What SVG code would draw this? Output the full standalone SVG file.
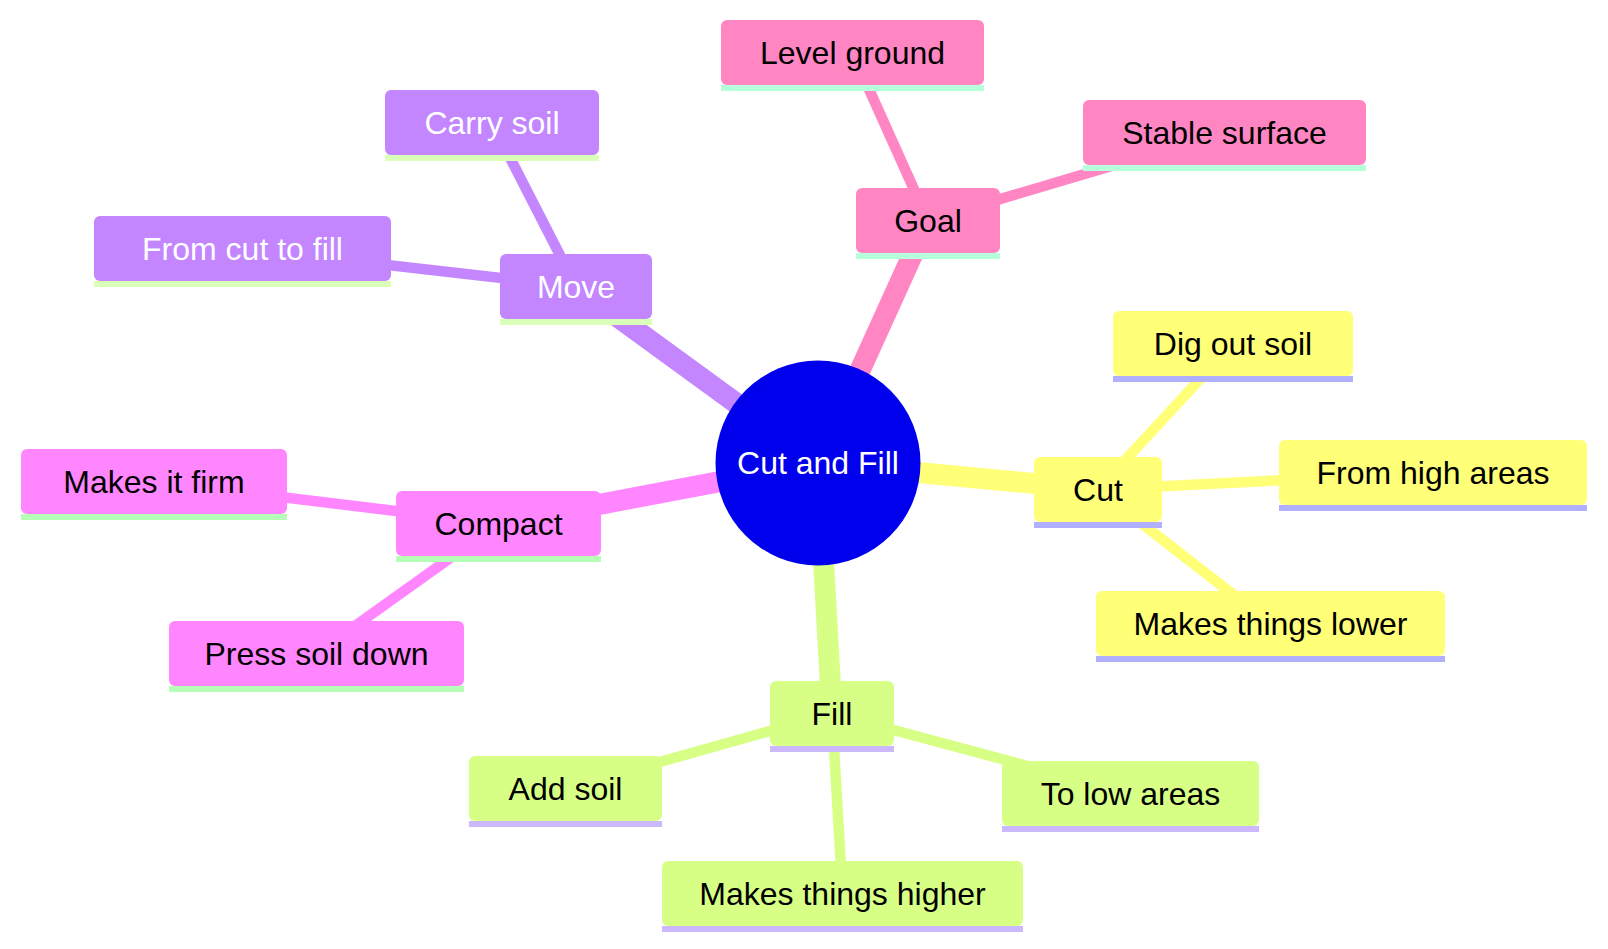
<svg xmlns="http://www.w3.org/2000/svg" width="1608" height="949" viewBox="0 0 1608 949">
<style>
  .bg { fill: #ffffff; }
  .edge { fill: none; stroke-linecap: butt; }
  .e0 { stroke-width: 21; }
  .e1 { stroke-width: 10.5; }
  .lbl { font-family: "Liberation Sans", Arial, sans-serif; font-size: 32px; text-anchor: middle; fill: #000000; }
  .lbl-w { fill: #ffffff; }
  .sec-cut .bkg { fill: #ffff78; }
  .sec-cut .uline { fill: #b0b0ff; }
  .sec-fill .bkg { fill: #d7ff86; }
  .sec-fill .uline { fill: #ccb8ff; }
  .sec-compact .bkg { fill: #ff86ff; }
  .sec-compact .uline { fill: #b6ffb6; }
  .sec-move .bkg { fill: #c386ff; }
  .sec-move .uline { fill: #daffb8; }
  .sec-goal .bkg { fill: #ff86c3; }
  .sec-goal .uline { fill: #b6ffdb; }
  .c-cut { stroke: #ffff78; }
  .c-fill { stroke: #d7ff86; }
  .c-compact { stroke: #ff86ff; }
  .c-move { stroke: #c386ff; }
  .c-goal { stroke: #ff86c3; }
</style>
<rect class="bg" x="0" y="0" width="1608" height="949"/>
<g id="connectors">
  <line class="edge e0 c-cut" x1="818" y1="463" x2="1098" y2="489.5"/>
  <line class="edge e1 c-cut" x1="1098" y1="489.5" x2="1233" y2="343.5"/>
  <line class="edge e1 c-cut" x1="1098" y1="489.5" x2="1433" y2="472.5"/>
  <line class="edge e1 c-cut" x1="1098" y1="489.5" x2="1270.5" y2="623.5"/>
  <line class="edge e0 c-fill" x1="818" y1="463" x2="832" y2="713.5"/>
  <line class="edge e1 c-fill" x1="832" y1="713.5" x2="565.5" y2="788.5"/>
  <line class="edge e1 c-fill" x1="832" y1="713.5" x2="1130.5" y2="793.5"/>
  <line class="edge e1 c-fill" x1="832" y1="713.5" x2="842.5" y2="893.5"/>
  <line class="edge e0 c-compact" x1="818" y1="463" x2="498.5" y2="523.5"/>
  <line class="edge e1 c-compact" x1="498.5" y1="523.5" x2="154" y2="481.5"/>
  <line class="edge e1 c-compact" x1="498.5" y1="523.5" x2="316.5" y2="653.5"/>
  <line class="edge e0 c-move" x1="818" y1="463" x2="576" y2="286.5"/>
  <line class="edge e1 c-move" x1="576" y1="286.5" x2="492" y2="122.5"/>
  <line class="edge e1 c-move" x1="576" y1="286.5" x2="242.5" y2="248.5"/>
  <line class="edge e0 c-goal" x1="818" y1="463" x2="928" y2="220.5"/>
  <line class="edge e1 c-goal" x1="928" y1="220.5" x2="852.5" y2="52.5"/>
  <line class="edge e1 c-goal" x1="928" y1="220.5" x2="1224.5" y2="132.5"/>
</g>
<g id="node-root">
  <circle cx="818" cy="463" r="102.5" fill="#0000ec"/>
  <text class="lbl lbl-w" x="818" y="473.5">Cut and Fill</text>
</g>
<g id="node-cut" class="sec-cut">
  <rect class="bkg" x="1034" y="457" width="128" height="65" rx="6"/>
  <rect class="uline" x="1034" y="522" width="128" height="6"/>
  <text class="lbl" x="1098" y="501">Cut</text>
</g>
<g id="node-dig" class="sec-cut">
  <rect class="bkg" x="1113" y="311" width="240" height="65" rx="6"/>
  <rect class="uline" x="1113" y="376" width="240" height="6"/>
  <text class="lbl" x="1233" y="355">Dig out soil</text>
</g>
<g id="node-high" class="sec-cut">
  <rect class="bkg" x="1279" y="440" width="308" height="65" rx="6"/>
  <rect class="uline" x="1279" y="505" width="308" height="6"/>
  <text class="lbl" x="1433" y="484">From high areas</text>
</g>
<g id="node-lower" class="sec-cut">
  <rect class="bkg" x="1096" y="591" width="349" height="65" rx="6"/>
  <rect class="uline" x="1096" y="656" width="349" height="6"/>
  <text class="lbl" x="1270.5" y="635">Makes things lower</text>
</g>
<g id="node-fill" class="sec-fill">
  <rect class="bkg" x="770" y="681" width="124" height="65" rx="6"/>
  <rect class="uline" x="770" y="746" width="124" height="6"/>
  <text class="lbl" x="832" y="725">Fill</text>
</g>
<g id="node-add" class="sec-fill">
  <rect class="bkg" x="469" y="756" width="193" height="65" rx="6"/>
  <rect class="uline" x="469" y="821" width="193" height="6"/>
  <text class="lbl" x="565.5" y="800">Add soil</text>
</g>
<g id="node-low" class="sec-fill">
  <rect class="bkg" x="1002" y="761" width="257" height="65" rx="6"/>
  <rect class="uline" x="1002" y="826" width="257" height="6"/>
  <text class="lbl" x="1130.5" y="805">To low areas</text>
</g>
<g id="node-higher" class="sec-fill">
  <rect class="bkg" x="662" y="861" width="361" height="65" rx="6"/>
  <rect class="uline" x="662" y="926" width="361" height="6"/>
  <text class="lbl" x="842.5" y="905">Makes things higher</text>
</g>
<g id="node-compact" class="sec-compact">
  <rect class="bkg" x="396" y="491" width="205" height="65" rx="6"/>
  <rect class="uline" x="396" y="556" width="205" height="6"/>
  <text class="lbl" x="498.5" y="535">Compact</text>
</g>
<g id="node-firm" class="sec-compact">
  <rect class="bkg" x="21" y="449" width="266" height="65" rx="6"/>
  <rect class="uline" x="21" y="514" width="266" height="6"/>
  <text class="lbl" x="154" y="493">Makes it firm</text>
</g>
<g id="node-press" class="sec-compact">
  <rect class="bkg" x="169" y="621" width="295" height="65" rx="6"/>
  <rect class="uline" x="169" y="686" width="295" height="6"/>
  <text class="lbl" x="316.5" y="665">Press soil down</text>
</g>
<g id="node-move" class="sec-move">
  <rect class="bkg" x="500" y="254" width="152" height="65" rx="6"/>
  <rect class="uline" x="500" y="319" width="152" height="6"/>
  <text class="lbl lbl-w" x="576" y="298">Move</text>
</g>
<g id="node-carry" class="sec-move">
  <rect class="bkg" x="385" y="90" width="214" height="65" rx="6"/>
  <rect class="uline" x="385" y="155" width="214" height="6"/>
  <text class="lbl lbl-w" x="492" y="134">Carry soil</text>
</g>
<g id="node-cuttofill" class="sec-move">
  <rect class="bkg" x="94" y="216" width="297" height="65" rx="6"/>
  <rect class="uline" x="94" y="281" width="297" height="6"/>
  <text class="lbl lbl-w" x="242.5" y="260">From cut to fill</text>
</g>
<g id="node-goal" class="sec-goal">
  <rect class="bkg" x="856" y="188" width="144" height="65" rx="6"/>
  <rect class="uline" x="856" y="253" width="144" height="6"/>
  <text class="lbl" x="928" y="232">Goal</text>
</g>
<g id="node-level" class="sec-goal">
  <rect class="bkg" x="721" y="20" width="263" height="65" rx="6"/>
  <rect class="uline" x="721" y="85" width="263" height="6"/>
  <text class="lbl" x="852.5" y="64">Level ground</text>
</g>
<g id="node-stable" class="sec-goal">
  <rect class="bkg" x="1083" y="100" width="283" height="65" rx="6"/>
  <rect class="uline" x="1083" y="165" width="283" height="6"/>
  <text class="lbl" x="1224.5" y="144">Stable surface</text>
</g>
</svg>
